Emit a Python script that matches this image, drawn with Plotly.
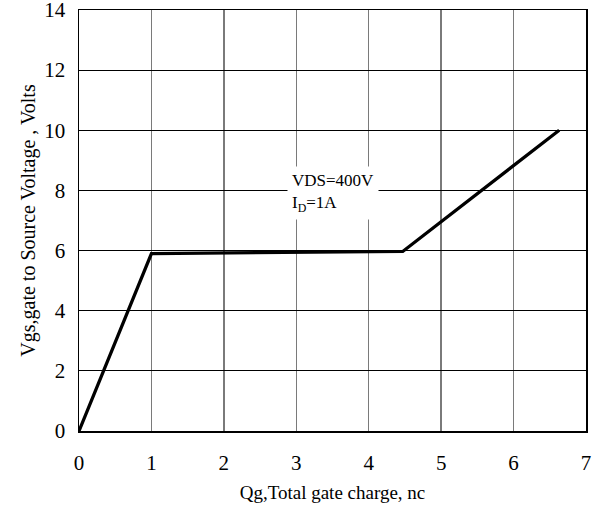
import plotly.graph_objects as go

# Data
qg = [0, 1.0, 4.47, 6.63]          # total gate charge, nC
vgs = [0, 5.9, 5.97, 10.0]         # gate-to-source voltage, V

x_ticks = [0, 1, 2, 3, 4, 5, 6, 7]
y_ticks = [0, 2, 4, 6, 8, 10, 12, 14]

x_title = "Qg,Total gate charge, nc"
y_title = "Vgs,gate to Source Voltage , Volts"
note_lines = ["VDS=400V", "I<sub>D</sub>=1A"]

FONT = "Liberation Serif"

fig = go.Figure()
fig.add_trace(go.Scatter(
    x=qg, y=vgs, mode="lines",
    line=dict(color="black", width=3.3),
    showlegend=False, hoverinfo="skip",
))

fig.add_annotation(
    x=2.87, y=7.92, xref="x", yref="y",
    text="<br>".join(note_lines),
    showarrow=False, xanchor="left", yanchor="middle", align="left",
    font=dict(family=FONT, size=17, color="black"),
    bgcolor="white", borderpad=4,
)

fig.update_layout(
    width=594, height=506,
    margin=dict(l=79, r=8, t=10, b=75),
    paper_bgcolor="white", plot_bgcolor="white",
    font=dict(family=FONT, color="black"),
    xaxis=dict(
        range=[0, 7], tickvals=x_ticks, ticktext=[str(v) for v in x_ticks],
        showgrid=True, gridcolor="#7a7a7a", gridwidth=1.4,
        showline=True, linecolor="black", linewidth=1.5, mirror=True,
        ticks="", ticklabelstandoff=12, zeroline=False, automargin=False,
        ticklabeloverflow="allow",
        tickfont=dict(family=FONT, size=21),
        title=dict(text=x_title, font=dict(family=FONT, size=19), standoff=12),
    ),
    yaxis=dict(
        range=[0, 14], tickvals=y_ticks, ticktext=[str(v) for v in y_ticks],
        showgrid=True, gridcolor="black", gridwidth=1,
        showline=True, linecolor="black", linewidth=1.5, mirror=True,
        ticks="", ticklabelstandoff=8, zeroline=False, automargin=False,
        ticklabeloverflow="allow",
        tickfont=dict(family=FONT, size=21),
        title=dict(text=y_title, font=dict(family=FONT, size=20), standoff=3),
    ),
)

fig.write_html(
    "out.html",
    config={"displayModeBar": False, "staticPlot": True},
    post_script="document.body.style.margin='0';document.body.style.overflow='hidden';",
)
